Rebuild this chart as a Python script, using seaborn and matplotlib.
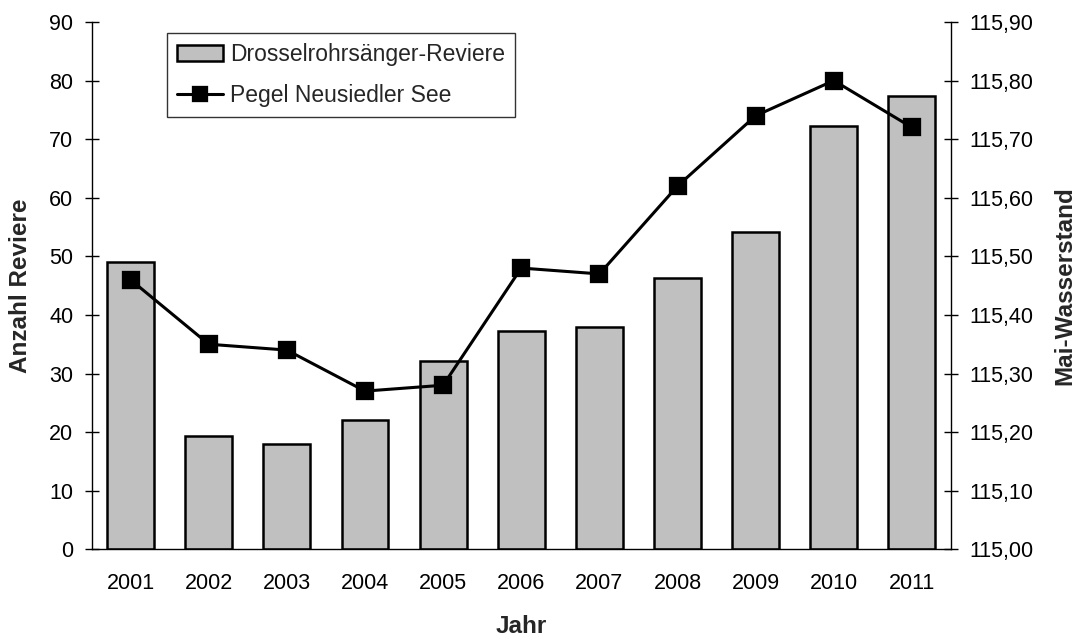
import numpy as np
import pandas as pd
import matplotlib
matplotlib.use("Agg")
import matplotlib.pyplot as plt
from matplotlib.ticker import FixedLocator, FuncFormatter, MultipleLocator
import seaborn as sns

# Data
years = ["2001", "2002", "2003", "2004", "2005", "2006", "2007", "2008", "2009", "2010", "2011"]
reviere = [49.1, 19.3, 17.9, 22.0, 32.2, 37.3, 38.0, 46.3, 54.1, 72.2, 77.4]
pegel = [115.46, 115.35, 115.34, 115.27, 115.28, 115.48, 115.47, 115.62, 115.74, 115.80, 115.72]

bar_label = "Drosselrohrsänger-Reviere"
line_label = "Pegel Neusiedler See"

df = pd.DataFrame({"Jahr": years, "Reviere": reviere, "Pegel": pegel})

sns.set_theme(style="white")
plt.rcParams["font.family"] = ["Liberation Sans", "DejaVu Sans"]
plt.rcParams["axes.linewidth"] = 1.0

fig = plt.figure(figsize=(10.77, 6.39), dpi=100)
ax = fig.add_axes([0.085, 0.1404, 0.798, 0.8252])

sns.barplot(data=df, x="Jahr", y="Reviere", ax=ax, color="#c0c0c0",
            saturation=1, width=0.6, edgecolor="black", linewidth=1.8)

ax2 = ax.twinx()
sns.pointplot(data=df, x="Jahr", y="Pegel", ax=ax2, color="black",
              markers="s", linestyles="-", markersize=12, linewidth=2.2)

n = len(years)
for a in (ax, ax2):
    a.set_xlim(-0.5, n - 0.5)
    a.spines["top"].set_visible(False)
    for s in a.spines.values():
        s.set_color("black")

ax.set_ylim(0, 90)
ax.yaxis.set_major_locator(MultipleLocator(10))
ax2.set_ylim(115.0, 115.9)
ax2.yaxis.set_major_locator(FixedLocator(np.round(np.arange(115.0, 115.91, 0.1), 2)))
ax2.yaxis.set_major_formatter(FuncFormatter(lambda v, p: f"{v:.2f}".replace(".", ",")))

ax.spines["right"].set_visible(False)
ax2.spines["left"].set_visible(False)
ax2.spines["bottom"].set_visible(False)

# Category ticks: labels at centers, tick marks at boundaries
ax.set_xticks(np.arange(n))
ax.set_xticklabels(years)
ax.set_xticks(np.arange(-0.5, n, 1.0), minor=True)
ax.tick_params(axis="x", which="major", length=0, pad=17, labelsize=15.5, colors="black")
ax.tick_params(axis="x", which="minor", length=10, width=1, direction="inout", color="black")
ax.tick_params(axis="y", which="major", length=10, width=1, direction="inout",
               pad=8, labelsize=15.5, colors="black", left=True)
ax2.tick_params(axis="y", which="major", length=10, width=1, direction="inout",
                pad=8, labelsize=15.5, colors="black", right=True)
ax2.tick_params(axis="x", which="both", bottom=False, labelbottom=False)

ax.set_xlabel("Jahr", fontsize=17.5, fontweight="bold")
ax.set_ylabel("Anzahl Reviere", fontsize=17.5, fontweight="bold")
ax2.set_ylabel("Mai-Wasserstand", fontsize=17.5, fontweight="bold")
ax.xaxis.set_label_coords(0.5, -0.1455)
ax.xaxis.label.set_va("center")
ax.yaxis.set_label_coords(-0.083, 0.5)
ax.yaxis.label.set_va("center")
ax2.yaxis.set_label_coords(1.132, 0.5)
ax2.yaxis.label.set_va("center")

handles = [ax.patches[0], ax2.lines[0]]
leg = ax2.legend(handles, [bar_label, line_label], loc="upper left",
                 bbox_to_anchor=(0.0878, 0.979), borderaxespad=0,
                 fontsize=16.5, frameon=True, fancybox=False, edgecolor="black",
                 handlelength=2.0, handletextpad=0.3, borderpad=0.45,
                 labelspacing=0.75, markerscale=0.8)
leg.get_frame().set_linewidth(1.0)

fig.savefig("out.png", dpi=100, facecolor="white")
